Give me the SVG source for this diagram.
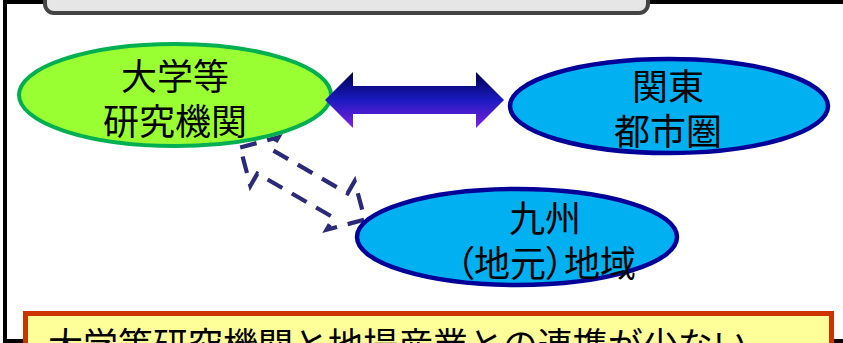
<svg xmlns="http://www.w3.org/2000/svg" width="843" height="343" viewBox="0 0 843 343">
<style>
.lbl{font-family:"Noto Sans CJK JP","Noto Sans CJK SC",sans-serif;font-size:36px;fill:#000;text-anchor:middle}
.msg{font-family:"Noto Sans CJK JP","Noto Sans CJK SC",sans-serif;font-size:35px;fill:#000}
.blue{fill:#00B0F0;stroke:#000099;stroke-width:4.5}
.palt{font-feature-settings:"palt" 1}
</style>
<defs>
<linearGradient id="ag" x1="0" y1="0" x2="0" y2="1">
<stop offset="0" stop-color="#000050"/>
<stop offset="0.5" stop-color="#1A1AC0"/>
<stop offset="1" stop-color="#8020E0"/>
</linearGradient>
</defs>
<rect x="0" y="0" width="843" height="343" fill="#fff"/>
<rect x="5" y="2" width="900" height="339" fill="none" stroke="#000" stroke-width="4"/>
<rect id="title-box" x="45" y="-20" width="603" height="33" rx="9" fill="#E6E6E6" stroke="#444" stroke-width="4"/>
<g id="connectors">
<polygon transform="translate(302.5 183.5) rotate(30)" points="-72,0 -44,-28 -44,-14 44,-14 44,-28 72,0 44,28 44,14 -44,14 -44,28" fill="none" stroke="#2B2A78" stroke-width="4.2" stroke-dasharray="17 11"/>
</g>
<g id="node-research">
<ellipse cx="175" cy="95" rx="156" ry="51" fill="#99FF33" stroke="#00B050" stroke-width="4"/>
<text class="lbl"><tspan x="175" y="90">大学等</tspan><tspan x="175" y="135">研究機関</tspan></text>
</g>
<g id="node-kanto">
<ellipse class="blue" cx="669" cy="106" rx="159" ry="47"/>
<text class="lbl"><tspan x="668" y="100">関東</tspan><tspan x="668" y="145">都市圏</tspan></text>
</g>
<g id="node-kyushu">
<ellipse class="blue" cx="517" cy="237" rx="160" ry="48"/>
<text class="lbl palt"><tspan x="545" y="232">九州</tspan><tspan x="546" y="277">（地元）地域</tspan></text>
</g>
<g id="connector-double">
<polygon points="325,100 353,72 353,86 476,86 476,72 504,100 476,128 476,114 353,114 353,128" fill="url(#ag)"/>
</g>
<g id="note">
<rect x="25.5" y="313.5" width="806" height="60" fill="#FFFF99" stroke="#CC3300" stroke-width="5"/>
<text class="msg" x="48" y="358">大学等研究機関と地場産業との連携が少ない</text>
</g>
</svg>
